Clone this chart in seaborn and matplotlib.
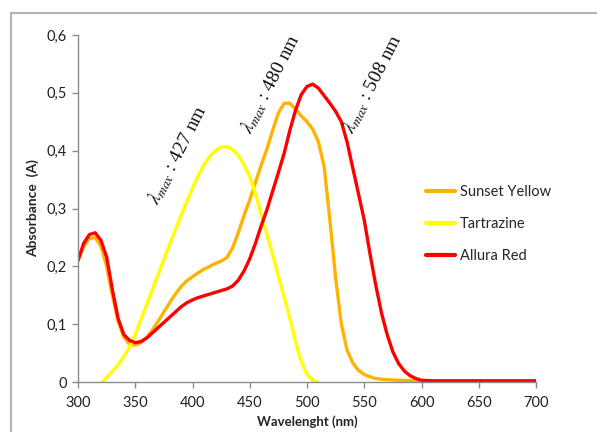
import numpy as np
import pandas as pd
import matplotlib
matplotlib.use("Agg")
import matplotlib.pyplot as plt
from matplotlib.patches import Rectangle
from matplotlib.lines import Line2D
from matplotlib.ticker import FuncFormatter
import seaborn as sns

# Absorption spectra of three food dyes (wavelength in nm, absorbance in A)
wl_sunset = [300, 305, 310, 315, 320, 325, 330, 335, 340, 345, 350, 355, 360,
             365, 370, 375, 380, 385, 390, 395, 400, 405, 410, 415, 420, 425,
             430, 435, 440, 445, 450, 455, 460, 465, 470, 475, 480, 485, 490,
             495, 500, 505, 510, 515, 520, 525, 530, 535, 540, 545, 550, 555,
             560, 570, 580, 600, 650, 700]
abs_sunset = [0.210, 0.235, 0.248, 0.250, 0.235, 0.200, 0.150, 0.105, 0.078,
              0.065, 0.064, 0.068, 0.077, 0.090, 0.105, 0.121, 0.137, 0.152,
              0.165, 0.175, 0.182, 0.189, 0.195, 0.200, 0.205, 0.209, 0.215,
              0.232, 0.258, 0.288, 0.315, 0.345, 0.375, 0.403, 0.435, 0.465,
              0.482, 0.482, 0.472, 0.460, 0.450, 0.437, 0.415, 0.372, 0.280,
              0.180, 0.100, 0.055, 0.033, 0.020, 0.013, 0.009, 0.006, 0.004,
              0.003, 0.002, 0.002, 0.002]

wl_tartrazine = [320, 325, 330, 335, 340, 345, 350, 355, 360, 365, 370, 375,
                 380, 385, 390, 395, 400, 405, 410, 415, 420, 425, 430, 435,
                 440, 445, 450, 455, 460, 465, 470, 475, 480, 485, 490, 495,
                 500, 505, 510]
abs_tartrazine = [-0.004, 0.008, 0.018, 0.030, 0.044, 0.061, 0.082, 0.108,
                  0.134, 0.160, 0.186, 0.212, 0.238, 0.263, 0.288, 0.312,
                  0.335, 0.357, 0.376, 0.390, 0.400, 0.406, 0.407, 0.402,
                  0.392, 0.376, 0.355, 0.325, 0.290, 0.255, 0.220, 0.183,
                  0.147, 0.110, 0.070, 0.035, 0.013, 0.003, -0.001]

wl_allura = [300, 305, 310, 315, 320, 325, 330, 335, 340, 345, 350, 355, 360,
             365, 370, 375, 380, 385, 390, 395, 400, 405, 410, 415, 420, 425,
             430, 435, 440, 445, 450, 455, 460, 465, 470, 475, 480, 485, 490,
             495, 500, 505, 510, 515, 520, 525, 530, 535, 540, 545, 550, 555,
             560, 565, 570, 575, 580, 585, 590, 595, 600, 610, 650, 700]
abs_allura = [0.210, 0.240, 0.255, 0.258, 0.245, 0.216, 0.160, 0.110, 0.082,
              0.072, 0.068, 0.070, 0.076, 0.085, 0.094, 0.103, 0.112, 0.121,
              0.130, 0.137, 0.142, 0.146, 0.149, 0.152, 0.155, 0.158, 0.161,
              0.166, 0.176, 0.192, 0.213, 0.240, 0.270, 0.298, 0.330, 0.362,
              0.395, 0.435, 0.470, 0.497, 0.511, 0.515, 0.508, 0.495, 0.482,
              0.468, 0.450, 0.415, 0.370, 0.325, 0.280, 0.222, 0.168, 0.120,
              0.082, 0.052, 0.032, 0.019, 0.011, 0.006, 0.003, 0.002, 0.002,
              0.002]

dye_names = ["Sunset Yellow", "Tartrazine", "Allura Red"]
dye_colors = ["#FFB300", "#FFFF00", "#FF0000"]
peak_labels = [427, 480, 508]

frames = [
    pd.DataFrame({"Wavelength": wl_sunset, "Absorbance": abs_sunset, "Dye": dye_names[0]}),
    pd.DataFrame({"Wavelength": wl_tartrazine, "Absorbance": abs_tartrazine, "Dye": dye_names[1]}),
    pd.DataFrame({"Wavelength": wl_allura, "Absorbance": abs_allura, "Dye": dye_names[2]}),
]
df = pd.concat(frames, ignore_index=True)

sns.set_style("white")
plt.rcParams["font.family"] = ["Lato", "DejaVu Sans"]
plt.rcParams["mathtext.fontset"] = "stix"

W, H = 597, 432
fig = plt.figure(figsize=(W / 100, H / 100), dpi=100)
ax = fig.add_axes([78 / W, 1 - 382 / H, (536 - 78) / W, (382 - 35) / H])

sns.lineplot(data=df, x="Wavelength", y="Absorbance", hue="Dye",
             hue_order=dye_names, palette=dye_colors, linewidth=2.4,
             sort=False, legend=False, ax=ax)
for line in ax.lines:
    line.set_solid_joinstyle("round")
    line.set_solid_capstyle("round")

ax.set_xlim(300, 700)
ax.set_ylim(0, 0.6)
ax.set_xticks(np.arange(300, 701, 50))
ax.set_yticks(np.arange(0, 0.61, 0.1))
ax.yaxis.set_major_formatter(FuncFormatter(
    lambda v, _: "0" if abs(v) < 1e-9 else f"{v:.1f}".replace(".", ",")))

for side in ("top", "right"):
    ax.spines[side].set_visible(False)
for side in ("left", "bottom"):
    ax.spines[side].set_color("#8C8C8C")
    ax.spines[side].set_linewidth(1.0)
ax.tick_params(axis="both", direction="out", length=4, width=1.0,
               color="#8C8C8C", labelsize=10.5, labelcolor="#222222",
               left=True, bottom=True, pad=4)
ax.tick_params(axis="x", pad=6)

ax.set_xlabel("Wavelenght (nm)", fontsize=9.5, fontweight="bold", labelpad=4)
ax.set_ylabel("Absorbance  (A)", fontsize=10, fontweight="bold", labelpad=5)

# Peak annotations
label_pos = [(387, 0.393), (468, 0.516), (557, 0.516)]
for (x, y), peak in zip(label_pos, peak_labels):
    ax.text(x, y, r"$\lambda_{max}$ : " + f"{peak} nm", rotation=63,
            rotation_mode="anchor", ha="center", va="center",
            fontsize=14, family="Liberation Serif", color="#111111")

handles = [Line2D([], [], color=c, lw=3) for c in dye_colors]
fig.legend(handles, dye_names, loc="upper left",
           bbox_to_anchor=(426 / W, 1 - 185 / H), frameon=False,
           fontsize=10.5, handlelength=2.0, handletextpad=0.3,
           labelspacing=1.25, borderpad=0, borderaxespad=0)

# Chart-area frame
fig.patches.append(Rectangle((11 / W, -0.1), 1.2, 0.1 + (1 - 13 / H),
                             transform=fig.transFigure, fill=False,
                             edgecolor="#B4B4B4", linewidth=1.5))

fig.savefig("out.png", dpi=100)
